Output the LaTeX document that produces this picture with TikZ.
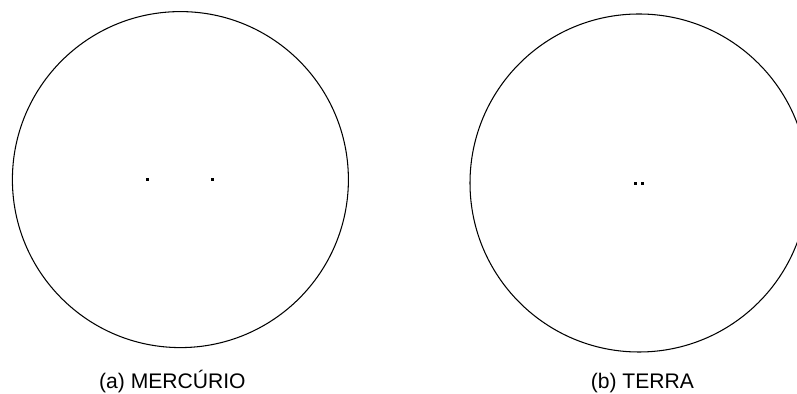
\documentclass[tikz,border=0pt]{standalone}
\usepackage{fontspec}
\setmainfont{Liberation Sans}
\usetikzlibrary{positioning}

\begin{document}
\begin{tikzpicture}[font=\fontsize{15}{18}\selectfont,
  planet/.style={draw,circle,line width=0.75pt,inner sep=0pt},
  focus/.style={rectangle,fill=black,inner sep=0pt,minimum size=0.075cm},
  caption/.style={anchor=base}]
  \useasboundingbox (0,0) rectangle (19.925,9.85);
  % (a) Mercurio
  \node[planet,minimum size=8.4cm] (merc) at (4.51,5.36) {};
  \node[focus] (mf1) at (3.69,5.35) {};
  \node[focus] (mf2) at (5.32,5.35) {};
  \node[caption] (capa) at (4.31,0.14) {(a) MERCÚRIO};
  % (b) Terra
  \node[planet,minimum size=8.45cm] (terra) at (15.975,5.275) {};
  \node[focus] (tf1) at (15.875,5.27) {};
  \node[focus] (tf2) at (16.06,5.27) {};
  \node[caption] (capb) at (16.06,0.14) {(b) TERRA};
\end{tikzpicture}
\end{document}
